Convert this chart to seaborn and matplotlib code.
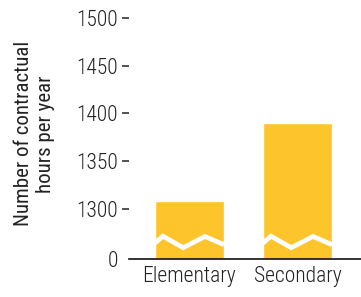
import matplotlib
matplotlib.use("Agg")
import matplotlib.pyplot as plt
import seaborn as sns
import pandas as pd
import numpy as np

categories = ["Elementary", "Secondary"]
hours = [1308, 1390]
tick_values = [0, 1300, 1350, 1400, 1450, 1500]

BREAK_BASE = 1247  # value drawn at the broken-axis baseline (label "0")

sns.set_style("white")
plt.rcParams['font.family'] = ['Roboto Condensed', 'DejaVu Sans']
plt.rcParams['font.weight'] = 'light'

fig = plt.figure(figsize=(3.61, 2.97), dpi=100)
ax = fig.add_axes([0.357, 0.127, 0.643, 0.8446])

df = pd.DataFrame({"cat": categories, "val": [h - BREAK_BASE for h in hours]})
sns.barplot(data=df, x="cat", y="val", color="#FEC42B", width=0.64,
            saturation=1, ax=ax, bottom=BREAK_BASE)

# zigzag break marks on each bar
for patch in ax.patches:
    x0 = patch.get_x()
    w = patch.get_width()
    fx = np.array([0.0, 0.116, 0.41, 0.725, 1.0])
    fy = np.array([1263.9, 1271.2, 1259.2, 1270.9, 1262.3])
    ax.plot(x0 + fx * w, fy, color="white", lw=3.4, solid_joinstyle="miter",
            solid_capstyle="butt", zorder=5)

ax.set_ylim(BREAK_BASE, 1510)
ax.set_xlim(-0.56, 1.588)
ax.set_yticks([BREAK_BASE if v == 0 else v for v in tick_values])
ax.set_yticklabels([str(v) for v in tick_values])

for s in ["top", "right", "left"]:
    ax.spines[s].set_visible(False)
ax.spines["bottom"].set_color("#111111")
ax.spines["bottom"].set_linewidth(1.2)

ax.tick_params(axis="y", direction="out", length=5, width=1.1, color="#222222",
               labelsize=15.5, labelcolor="#222222", pad=3, left=True)
ax.tick_params(axis="x", length=0, labelsize=15.5, labelcolor="#222222", pad=5)
ax.yaxis.get_major_ticks()[0].tick1line.set_visible(False)

ax.set_xlabel("")
ax.set_ylabel("Number of contractual\nhours per year", fontsize=15,
              color="#222222", linespacing=1.2, labelpad=15)

fig.savefig("out.png", dpi=100)
